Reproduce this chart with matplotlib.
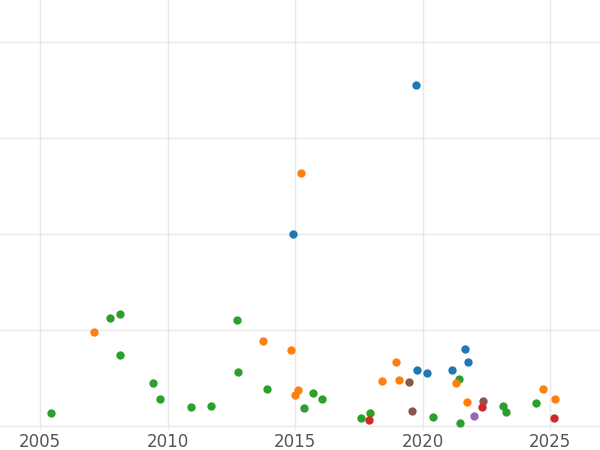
import matplotlib
matplotlib.use('Agg')
import matplotlib.pyplot as plt

# Series (year, value)
green_x = [2005.43, 2007.75, 2008.14, 2008.14, 2009.43, 2009.71, 2010.92, 2011.71, 2012.73, 2012.76,
           2013.90, 2015.35, 2015.71, 2016.06, 2017.59, 2017.94, 2020.41, 2021.43, 2021.47, 2023.16,
           2023.27, 2024.45]
green_y = [0.14, 1.13, 1.17, 0.74, 0.45, 0.28, 0.20, 0.21, 1.11, 0.57,
           0.39, 0.19, 0.35, 0.28, 0.09, 0.14, 0.10, 0.49, 0.04, 0.21,
           0.15, 0.24]
orange_x = [2007.12, 2013.75, 2014.84, 2015.24, 2015.00, 2015.12, 2018.41, 2018.96, 2019.08,
            2021.31, 2021.75, 2024.73, 2025.20]
orange_y = [0.98, 0.89, 0.80, 2.64, 0.33, 0.38, 0.47, 0.67, 0.48, 0.45, 0.25, 0.39, 0.29]
blue_x = [2014.92, 2019.75, 2019.78, 2020.18, 2021.16, 2021.67, 2021.78]
blue_y = [2.00, 3.55, 0.59, 0.56, 0.59, 0.81, 0.67]
brown_x = [2019.47, 2019.59, 2022.37]
brown_y = [0.46, 0.16, 0.26]
red_x = [2017.90, 2022.33, 2025.16]
red_y = [0.07, 0.20, 0.09]
purple_x = [2022.02]
purple_y = [0.11]

fig = plt.figure(figsize=(6, 4.5), dpi=100)
ax = fig.add_axes([0, 0.044, 1, 0.956])

for xs, ys, c in [(green_x, green_y, '#2ca02c'), (orange_x, orange_y, '#ff7f0e'),
                  (blue_x, blue_y, '#1f77b4'), (brown_x, brown_y, '#8c564b'),
                  (red_x, red_y, '#d62728'), (purple_x, purple_y, '#9467bd')]:
    ax.scatter(xs, ys, s=36, color=c, zorder=3, linewidths=0)

ax.set_xlim(2003.43, 2026.96)
ax.set_ylim(-0.04, 4.44)
ax.set_xticks([2005, 2010, 2015, 2020, 2025])
ax.set_yticks([0, 1, 2, 3, 4])
ax.set_yticklabels([])
ax.tick_params(axis='x', length=0, labelsize=12, labelcolor='#555555', pad=2)
ax.tick_params(axis='y', length=0)
ax.grid(True, color='#e8e8e8', linewidth=1)
ax.set_axisbelow(True)
for s in ax.spines.values():
    s.set_visible(False)

fig.savefig('out.png', dpi=100)
